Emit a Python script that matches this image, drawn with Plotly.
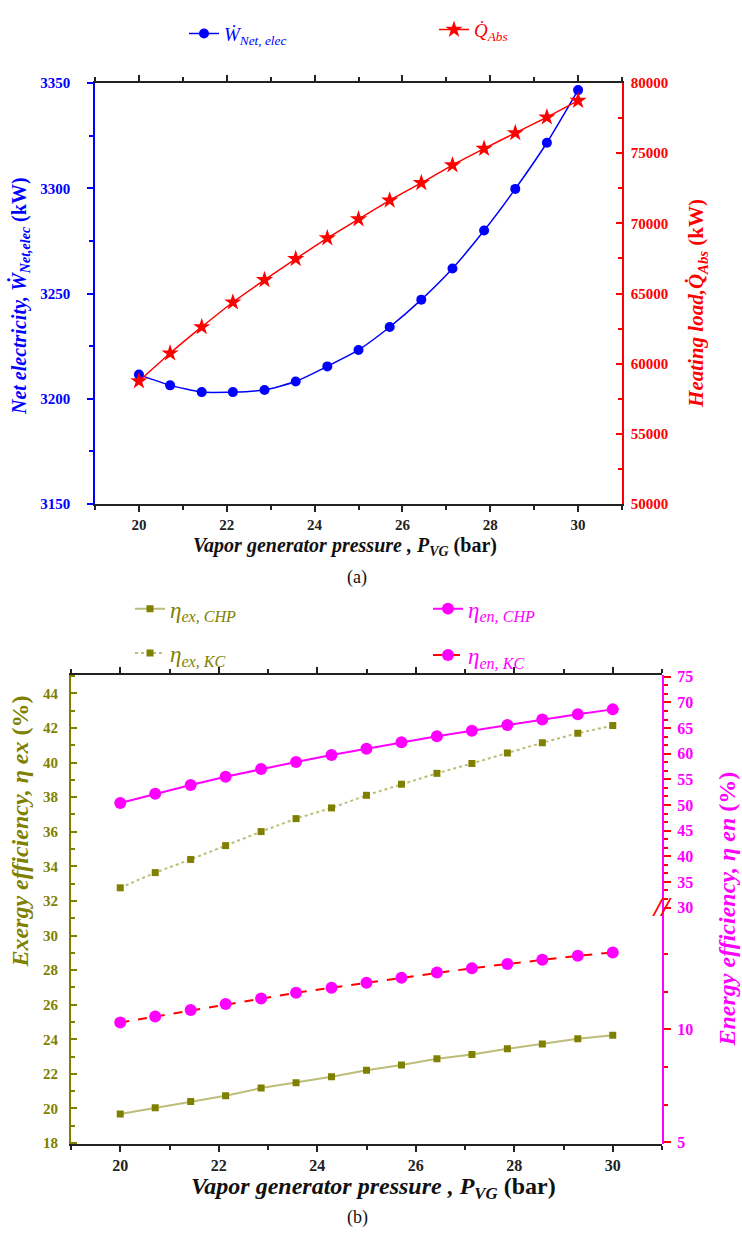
import plotly.graph_objects as go

# ---- data -------------------------------------------------------------
pressure = [20.0, 20.71, 21.43, 22.14, 22.86, 23.57, 24.29, 25.0,
            25.71, 26.43, 27.14, 27.86, 28.57, 29.29, 30.0]

# (a) net electricity (kW) and heating load (kW)
w_net_elec = [3211.5, 3206.4, 3203.2, 3203.2, 3204.2, 3208.2, 3215.4, 3223.2,
              3234.1, 3247.1, 3261.9, 3279.9, 3299.7, 3321.6, 3346.6]
q_abs = [58760, 60750, 62620, 64380, 65970, 67470, 68950, 70300,
         71640, 72880, 74150, 75320, 76440, 77560, 78740]

# (b) exergy and energy efficiencies (%)
eta_ex_chp = [19.68, 20.04, 20.40, 20.74, 21.18, 21.49, 21.83, 22.21,
              22.51, 22.87, 23.12, 23.45, 23.73, 24.03, 24.24]
eta_ex_kc = [32.76, 33.64, 34.40, 35.20, 36.01, 36.76, 37.38, 38.11,
             38.75, 39.38, 39.95, 40.56, 41.15, 41.70, 42.14]
eta_en_chp = [50.4, 52.2, 53.9, 55.5, 57.0, 58.4, 59.75, 60.96,
              62.24, 63.4, 64.5, 65.58, 66.67, 67.69, 68.65]
eta_en_kc = [10.31, 10.57, 10.86, 11.12, 11.37, 11.62, 11.85, 12.07,
             12.29, 12.52, 12.71, 12.90, 13.09, 13.26, 13.41]

x_ticks = [20, 22, 24, 26, 28, 30]
en_lower_ticks = [5, 10]

# ---- page geometry (pixels -> paper fractions) -------------------------
W, H = 742, 1244


def fx(p):
    return p / W


def fy(p):
    return 1 - p / H


SERIF = "Liberation Serif, Times New Roman, serif"
BLUE = "#0000ff"
RED = "#ff0000"
MAGENTA = "#ff00ff"
OLIVE = "#808000"
OLIVE_LINE = "#bdbd7a"

fig = go.Figure()

# ---- (a) ---------------------------------------------------------------
fig.add_trace(go.Scatter(
    x=pressure, y=w_net_elec, xaxis="x", yaxis="y",
    mode="lines+markers", name="<i>Ẇ<sub>Net, elec</sub></i>",
    line=dict(color=BLUE, width=1.5, shape="spline", smoothing=0.5),
    marker=dict(symbol="circle", size=10, color=BLUE),
    legend="legend"))
fig.add_trace(go.Scatter(
    x=pressure, y=q_abs, xaxis="x", yaxis="y2",
    mode="lines+markers", name="<i>Q̇<sub>Abs</sub></i>",
    line=dict(color=RED, width=1.5, shape="spline", smoothing=0.5),
    marker=dict(symbol="star", size=13, color=RED),
    legend="legend2"))

# ---- (b) ---------------------------------------------------------------
fig.add_trace(go.Scatter(
    x=pressure, y=eta_ex_chp, xaxis="x2", yaxis="y3",
    mode="lines+markers", name="<i>η<sub>ex, CHP</sub></i>",
    line=dict(color=OLIVE_LINE, width=2),
    marker=dict(symbol="square", size=7, color=OLIVE),
    legend="legend3"))
fig.add_trace(go.Scatter(
    x=pressure, y=eta_ex_kc, xaxis="x2", yaxis="y3",
    mode="lines+markers", name="<i>η<sub>ex, KC</sub></i>",
    line=dict(color=OLIVE_LINE, width=2, dash="dot"),
    marker=dict(symbol="square", size=7, color=OLIVE),
    legend="legend4"))
fig.add_trace(go.Scatter(
    x=pressure, y=eta_en_chp, xaxis="x2", yaxis="y4",
    mode="lines+markers", name="<i>η<sub>en, CHP</sub></i>",
    line=dict(color=MAGENTA, width=2),
    marker=dict(symbol="circle", size=12, color=MAGENTA),
    legend="legend5"))
fig.add_trace(go.Scatter(
    x=pressure, y=eta_en_kc, xaxis="x2", yaxis="y5",
    mode="lines+markers", name="<i>η<sub>en, KC</sub></i>",
    line=dict(color=RED, width=2, dash="dash"),
    marker=dict(symbol="circle", size=12, color=MAGENTA),
    legend="legend6"))


def tfont(color, size):
    return dict(family=SERIF, size=size, color=color, weight="bold")


common_x = dict(range=[19, 31], tickvals=x_ticks, ticks="outside", ticklen=6,
                tickwidth=1.5, showline=True, linecolor="#222", linewidth=1.5,
                mirror="ticks", showgrid=False, zeroline=False,
                tickcolor="#222",
                minor=dict(dtick=1, tick0=19, ticklen=4, ticks="outside",
                           tickcolor="#222", tickwidth=1.5, showgrid=False))

layout = dict(
    width=W, height=H,
    margin=dict(l=0, r=0, t=0, b=0),
    paper_bgcolor="white", plot_bgcolor="rgba(0,0,0,0)",
    showlegend=True,
    xaxis=dict(common_x, domain=[fx(95), fx(622)], anchor="y",
               tickfont=tfont("#222", 15)),
    yaxis=dict(domain=[fy(503), fy(76)], anchor="x", range=[3150, 3350],
               dtick=50, tick0=3150, ticks="outside", ticklen=6, tickwidth=1.5,
               showline=True, linecolor=BLUE, linewidth=1.5, tickcolor=BLUE,
               tickfont=tfont(BLUE, 15), ticklabelstandoff=14,
               showgrid=False, zeroline=False,
               minor=dict(dtick=25, tick0=3150, ticklen=4, ticks="outside",
                          tickcolor=BLUE, tickwidth=1.5, showgrid=False)),
    yaxis2=dict(overlaying="y", side="right", anchor="x",
                range=[50000, 80000], dtick=5000, tick0=50000, tickformat="d",
                ticks="inside", ticklen=6, tickwidth=1.5, showline=True,
                linecolor=RED, linewidth=1.5, tickcolor=RED,
                tickfont=tfont(RED, 15), ticklabelstandoff=4,
                showgrid=False, zeroline=False,
                minor=dict(dtick=2500, tick0=50000, ticklen=4, ticks="inside",
                           tickcolor=RED, tickwidth=1.5, showgrid=False)),
    xaxis2=dict(common_x, domain=[fx(71), fx(662)], anchor="y3",
                tickfont=tfont("#222", 16)),
    yaxis3=dict(domain=[fy(1152), fy(676)], anchor="x2", range=[17.93, 45.08],
                dtick=2, tick0=18, ticks="inside", ticklen=6, tickwidth=1.5,
                showline=True, linecolor=OLIVE, linewidth=2, tickcolor=OLIVE,
                tickfont=tfont(OLIVE, 15), ticklabelstandoff=8,
                showgrid=False, zeroline=False,
                minor=dict(dtick=1, tick0=18, ticklen=4, ticks="inside",
                           tickcolor=OLIVE, tickwidth=1.5, showgrid=False)),
    yaxis4=dict(domain=[fy(912), fy(676)], anchor="x2", side="right",
                range=[30, 75.4], dtick=5, tick0=30, ticks="outside",
                ticklen=7, tickwidth=2, showline=True, linecolor=MAGENTA,
                linewidth=2, tickcolor=RED, tickfont=tfont(MAGENTA, 16),
                ticklabelstandoff=3, showgrid=False, zeroline=False,
                minor=dict(dtick=5 / 3, tick0=30, ticklen=4, ticks="outside",
                           tickcolor=RED, tickwidth=1.5, showgrid=False)),
    yaxis5=dict(domain=[fy(1152), fy(912)], anchor="x2", side="right",
                range=[4.91, 15.4], tickvals=en_lower_ticks, ticks="outside",
                ticklen=7, tickwidth=2, showline=True, linecolor=MAGENTA,
                linewidth=2, tickcolor=RED, tickfont=tfont(MAGENTA, 16),
                ticklabelstandoff=3, showgrid=False, zeroline=False,
                minor=dict(tickvals=[6.667, 8.333, 11.667, 13.333], ticklen=4,
                           ticks="outside", tickcolor=RED, tickwidth=1.5,
                           showgrid=False)),
)


def legend_at(x_px, y_px, color, size):
    return dict(x=fx(x_px), y=fy(y_px), xanchor="left", yanchor="middle",
                bgcolor="rgba(0,0,0,0)", borderwidth=0,
                font=dict(family=SERIF, size=size, color=color))


layout["legend"] = legend_at(184, 26, BLUE, 19)
layout["legend2"] = legend_at(434, 22, RED, 19)
layout["legend3"] = legend_at(130, 609, OLIVE, 23)
layout["legend4"] = legend_at(130, 654, OLIVE, 23)
layout["legend5"] = legend_at(428, 609, MAGENTA, 23)
layout["legend6"] = legend_at(428, 656, MAGENTA, 23)

fig.update_layout(**layout)


def note(text, x_px, y_px, size, color, angle=0):
    fig.add_annotation(text=text, x=fx(x_px), y=fy(y_px), xref="paper",
                       yref="paper", xanchor="center", yanchor="middle",
                       showarrow=False, textangle=angle,
                       font=dict(family=SERIF, size=size, color=color))


# axis titles and panel captions
note("<b><i>Vapor generator pressure , P<sub>VG</sub></i> (bar)</b>",
     345, 546, 20, "#111")
note("(a)", 357, 577, 18, "#111")
note("<b><i>Net electricity, Ẇ<sub>Net,elec</sub></i> (kW)</b>",
     20, 292, 20, BLUE, -90)
note("<b><i>Heating load,Q̇<sub>Abs</sub></i> (kW)</b>",
     698, 300, 21, RED, -90)

note("<b><i>Vapor generator pressure , P<sub>VG</sub></i> (bar)</b>",
     373, 1196, 24, "#111")
note("(b)", 357, 1226, 18, "#111")
note("<b><i>Exergy efficiency, η ex</i> (%)</b>", 20, 835, 24, OLIVE, -90)
note("<b><i>Energy efficiency, η en</i> (%)</b>", 727, 914, 24, MAGENTA, -90)

# axis break marker on the right-hand energy axis
note("<b><i>//</i></b>", 662, 911, 28, RED)

fig.write_html("out.html")
